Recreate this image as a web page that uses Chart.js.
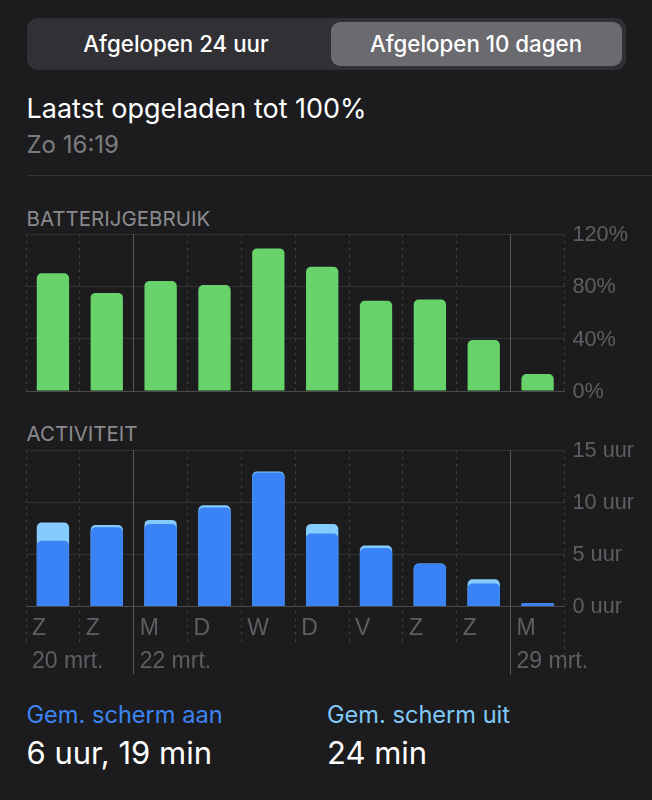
<!DOCTYPE html>
<html lang="nl">
<head>
    <meta charset="UTF-8">
    <title>Batterij</title>
    <script src="https://cdn.jsdelivr.net/npm/chart.js@4"></script>
    <style>
        * {
            box-sizing: border-box;
            margin: 0;
            padding: 0;
            font-family: Inter, Roboto, sans-serif;
        }

        body {
            width: 652px;
            height: 800px;
            position: relative;
            overflow: hidden;
            background-color: #1c1c1e;
            color: #fff;
        }

        .abs {
            position: absolute;
            white-space: nowrap;
            line-height: 1;
        }

        .track {
            position: absolute;
            left: 27px;
            top: 18px;
            width: 599px;
            height: 52px;
            border-radius: 11px;
            background-color: #313135;
        }

        .selected {
            position: absolute;
            left: 331px;
            top: 22px;
            width: 291px;
            height: 44px;
            border-radius: 9px;
            background-color: #6a6a6f;
        }

        .tab {
            font-size: 22.3px;
            font-weight: 500;
            top: 33px;
            transform: translateX(-50%);
        }

        .divider {
            position: absolute;
            left: 27px;
            right: 0;
            top: 175px;
            height: 1px;
            background-color: #333336;
        }

        .section {
            font-size: 20.5px;
            color: #8b8b8f;
        }

        canvas {
            position: absolute;
            left: 0;
        }
    </style>
</head>
<body>
    <div class="track"></div>
    <div class="selected"></div>
    <div class="abs tab" style="left: 176px">Afgelopen 24 uur</div>
    <div class="abs tab" style="left: 476px">Afgelopen 10 dagen</div>

    <div class="abs" style="left: 26.5px; top: 95px; font-size: 27px">Laatst opgeladen tot 100%</div>
    <div class="abs" style="left: 26.5px; top: 133px; font-size: 24px; color: #7c7c80">Zo 16:19</div>
    <div class="divider"></div>

    <div class="abs section" style="left: 26.5px; top: 209px">BATTERIJGEBRUIK</div>
    <canvas id="battery-chart" width="652" height="190" style="top: 220px"></canvas>

    <div class="abs section" style="left: 26.5px; top: 424px">ACTIVITEIT</div>
    <canvas id="activity-chart" width="652" height="244" style="top: 436px"></canvas>

    <div class="abs" style="left: 26.5px; top: 703px; font-size: 23.6px; color: #3b84f2">Gem. scherm aan</div>
    <div class="abs" style="left: 26.5px; top: 737px; font-size: 31px">6 uur, 19 min</div>
    <div class="abs" style="left: 327px; top: 703px; font-size: 23.6px; color: #80c9f9">Gem. scherm uit</div>
    <div class="abs" style="left: 327px; top: 737px; font-size: 31px">24 min</div>

    <script>
        const days = ['Z', 'Z', 'M', 'D', 'W', 'D', 'V', 'Z', 'Z', 'M'];
        const dates = ['20 mrt.', '', '22 mrt.', '', '', '', '', '', '', '29 mrt.'];
        const batteryUsage = [90, 75, 84, 81, 109, 95, 69, 70, 39, 13];
        const screenOn = [6.3, 7.6, 7.9, 9.5, 12.85, 7.0, 5.6, 4.1, 2.2, 0.3];
        const screenOff = [1.75, 0.2, 0.4, 0.2, 0.1, 0.9, 0.25, 0.02, 0.4, 0];
        const batteryTicks = [0, 40, 80, 120];
        const activityTicks = [0, 5, 10, 15];

        const screenTotal = screenOn.map((v, i) => v + screenOff[i]);
        const dayStarts = [2, 9]; // midnight separators, drawn solid

        // Vertical day lines, they run on below the plot next to the labels
        const dayLines = {
            id: 'dayLines',
            beforeDatasetsDraw(chart, args, opts) {
                const { ctx, chartArea, scales } = chart;
                ctx.save();
                ctx.lineWidth = 1;
                for (let i = 0; i <= days.length; i++) {
                    const solid = dayStarts.includes(i);
                    const long = solid || i === days.length; // last dashed line goes through the date row
                    const x = Math.floor(scales.x.getPixelForValue(i - 0.5)) + 0.5;
                    ctx.strokeStyle = solid ? '#58585c' : '#3d3d40';
                    ctx.setLineDash(solid ? [] : [3, 4]);
                    ctx.beginPath();
                    ctx.moveTo(x, chartArea.top);
                    ctx.lineTo(x, chartArea.bottom + (long ? opts.longExtra : opts.shortExtra));
                    ctx.stroke();
                }
                ctx.restore();
            }
        };

        function createChart(canvasId, datasets, yTicks, suffix, xHeight, showLabels, extras) {
            return new Chart(document.getElementById(canvasId), {
                type: 'bar',
                data: {
                    labels: days.map((d, i) => [d, dates[i]]),
                    datasets: datasets
                },
                plugins: [dayLines],
                options: {
                    responsive: false,
                    animation: false,
                    layout: { padding: { left: 26, top: 14 } },
                    plugins: {
                        legend: { display: false },
                        tooltip: { enabled: false },
                        dayLines: extras
                    },
                    scales: {
                        x: {
                            afterFit: s => { s.height = xHeight; s.paddingLeft = 0; s.paddingRight = 0; },
                            grid: { display: false, drawTicks: false },
                            border: { color: '#4b4b4e' },
                            ticks: {
                                display: showLabels,
                                autoSkip: false,
                                maxRotation: 0,
                                align: 'start',
                                labelOffset: -21,
                                padding: 5,
                                color: '#5f5f63',
                                font: { size: 23, lineHeight: 1.45 }
                            }
                        },
                        y: {
                            position: 'right',
                            min: yTicks[0],
                            max: yTicks[yTicks.length - 1],
                            afterFit: s => { s.width = 87.5; s.paddingTop = 0; s.paddingBottom = 0; },
                            afterBuildTicks: s => { s.ticks = yTicks.map(v => ({ value: v })); },
                            grid: { color: '#323234', drawTicks: false },
                            border: { display: false },
                            ticks: {
                                padding: 8,
                                labelOffset: 1,
                                color: '#5f5f63',
                                font: { size: 21.7 },
                                callback: v => v + suffix
                            }
                        }
                    }
                }
            });
        }

        const barStyle = {
            barPercentage: 0.6,
            categoryPercentage: 1,
            grouped: false,
            borderSkipped: 'bottom',
            borderRadius: { topLeft: 5, topRight: 5 }
        };

        createChart('battery-chart', [
            { data: batteryUsage, backgroundColor: '#68d36b', ...barStyle }
        ], batteryTicks, '%', 19, false, { longExtra: 0, shortExtra: 0 });

        createChart('activity-chart', [
            { data: screenOn, backgroundColor: '#3a83f7', ...barStyle },
            { data: screenTotal, backgroundColor: '#83ccfd', ...barStyle }
        ], activityTicks, ' uur', 73.5, true, { longExtra: 68, shortExtra: 39 });
    </script>
</body>
</html>
